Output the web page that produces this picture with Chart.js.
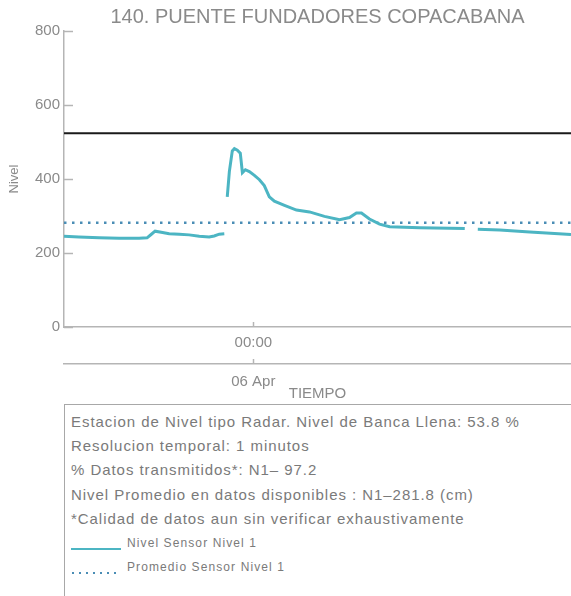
<!DOCTYPE html>
<html><head><meta charset="utf-8">
<script src="https://cdn.jsdelivr.net/npm/chart.js@4.4.0/dist/chart.umd.min.js"></script>
<style>
 body{margin:0;background:#fff;font-family:"Liberation Sans",Arial,sans-serif;overflow:hidden}
 #wrap{position:relative;width:571px;height:596px;overflow:hidden}
 #grafica{position:absolute;left:0;top:0}
 #box{position:absolute;left:64px;top:404px;width:560px;height:200px;border:1px solid #a8a8a8;
      color:#7a7a7a;font-size:15px;letter-spacing:0.95px;line-height:24.2px;padding:5px 0 0 6px;box-sizing:border-box;white-space:nowrap}
 #box .ley{font-size:12px;letter-spacing:1.1px}
 #box svg{vertical-align:-4px;margin-right:6px}
</style>
</head>
<body>
<div id="wrap">
 <canvas id="grafica" width="571" height="403"></canvas>
 <div id="box"></div>
</div>
<script>
// datos (horas respecto a 06 Apr 00:00, nivel en cm)
const titulo = '140. PUENTE FUNDADORES COPACABANA';
const horas = [-9, -8.29, -7.33, -6.38, -5.43, -5.05, -4.86, -4.67, -4.38, -4.0, -3.52, -3.05, -2.57, -2.10, -1.86, -1.62, -1.38,
  -1.3,
  -1.24, -1.14, -1.0, -0.90, -0.76, -0.62, -0.52, -0.38, -0.19, 0.05, 0.29, 0.52, 0.76, 1.0, 1.48, 2.05, 2.67, 3.38, 4.10,
  4.57, 4.90, 5.14, 5.52, 6.0, 6.48, 7.90, 10.05,
  10.4,
  10.67, 11.71, 13.14, 15.1];
const nivel = [245, 243, 241, 240, 240, 241, 250, 259, 256, 252, 251, 249, 245, 243, 246, 251, 252,
  null,
  352, 420, 476, 482, 478, 470, 417, 425, 420, 410, 398, 382, 352, 340, 329, 316, 311, 299, 290,
  296, 308, 308, 292, 278, 271, 268, 266,
  null,
  264, 262, 257, 250];
const promedio = 281.8;
const bancaLlena = 523.8;
const yTicks = [0, 200, 400, 600, 800];
const xTicks = [0];
const xHora = ['00:00'];
const xFecha = ['06 Apr'];
const xMin = -9, xMax = 15.1;

const textos = [
  'Estacion de Nivel tipo Radar. Nivel de Banca Llena: 53.8 %',
  'Resolucion temporal: 1 minutos',
  '% Datos transmitidos*: N1\u2013 97.2',
  'Nivel Promedio en datos disponibles : N1\u2013281.8 (cm)',
  '*Calidad de datos aun sin verificar exhaustivamente'
];
const nombres = ['Nivel Sensor Nivel 1', 'Promedio Sensor Nivel 1'];

const teal = '#4cb5c3';
const azul = '#4a8db5';
const gris = '#b5b5b5';
const texto = '#8a8a8a';

const box = document.getElementById('box');
let html = textos.map(t => '<div>' + t + '</div>').join('');
html += '<div class="ley"><svg width="50" height="10"><line x1="0" y1="8" x2="50" y2="8" stroke="' + teal + '" stroke-width="2"/></svg>' + nombres[0] + '</div>';
html += '<div class="ley"><svg width="50" height="10"><line x1="1" y1="8" x2="50" y2="8" stroke="' + azul + '" stroke-width="2" stroke-dasharray="2,5"/></svg>' + nombres[1] + '</div>';
box.innerHTML = html;

const marcas = {
  id: 'marcas',
  afterDraw(c) {
    const ctx = c.ctx, a = c.chartArea;
    ctx.save();
    ctx.strokeStyle = gris;
    ctx.lineWidth = 1.5;
    const y = c.scales.y;
    y.ticks.forEach(t => {
      const p = Math.round(y.getPixelForValue(t.value)) + 0.5;
      ctx.beginPath(); ctx.moveTo(a.left, p); ctx.lineTo(a.left + 9, p); ctx.stroke();
    });
    ['x', 'x2'].forEach(id => {
      const s = c.scales[id];
      s.ticks.forEach(t => {
        const p = Math.round(s.getPixelForValue(t.value)) + 0.5;
        ctx.beginPath(); ctx.moveTo(p, s.top); ctx.lineTo(p, s.top - 5); ctx.stroke();
      });
    });
    ctx.fillStyle = texto;
    ctx.font = '20px "Liberation Sans", Arial, sans-serif';
    ctx.textAlign = 'center';
    ctx.textBaseline = 'middle';
    ctx.fillText(titulo, (a.left + a.right) / 2, 17);
    ctx.restore();
  }
};

const fuente = { family: '"Liberation Sans", Arial, sans-serif', size: 15 };
const sinRejilla = { display: false, tickLength: 0, drawTicks: false };

new Chart(document.getElementById('grafica'), {
  type: 'line',
  data: {
    datasets: [
      { label: nombres[0], data: horas.map((h, i) => ({ x: h, y: nivel[i] })), borderColor: teal, borderWidth: 3,
        pointRadius: 0, tension: 0, spanGaps: false },
      { label: nombres[1], data: [{ x: xMin, y: promedio }, { x: xMax, y: promedio }], borderColor: azul, borderWidth: 2.4,
        borderDash: [2.5, 5.5], pointRadius: 0 },
      { label: 'Banca Llena', data: [{ x: xMin, y: bancaLlena }, { x: xMax, y: bancaLlena }], borderColor: '#1a1a1a',
        borderWidth: 2, pointRadius: 0 }
    ]
  },
  options: {
    responsive: false,
    animation: false,
    layout: { padding: { top: 31, right: 0, bottom: 0, left: 0 } },
    plugins: { legend: { display: false }, tooltip: { enabled: false } },
    scales: {
      x: {
        type: 'linear', position: 'bottom', min: xMin, max: xMax,
        afterBuildTicks: s => { s.ticks = xTicks.map(v => ({ value: v })); },
        afterFit: s => { s.height = 37; },
        grid: sinRejilla,
        border: { color: gris, width: 1.5 },
        ticks: { color: texto, font: fuente, padding: 7, maxRotation: 0, callback: (v) => xHora[xTicks.indexOf(v)] }
      },
      x2: {
        type: 'linear', position: 'bottom', min: xMin, max: xMax,
        afterBuildTicks: s => { s.ticks = xTicks.map(v => ({ value: v })); },
        afterFit: s => { s.height = 39; },
        grid: sinRejilla,
        border: { color: gris, width: 1.5 },
        ticks: { color: texto, font: fuente, padding: 9, maxRotation: 0, callback: (v) => xFecha[xTicks.indexOf(v)] },
        title: { display: true, text: 'TIEMPO', color: texto, font: fuente, padding: 0 }
      },
      y: {
        min: 0, max: 800,
        afterBuildTicks: s => { s.ticks = yTicks.map(v => ({ value: v })); },
        afterFit: s => { s.width = 64; },
        grid: sinRejilla,
        border: { color: gris, width: 1.5 },
        ticks: { color: texto, font: fuente, padding: 4 },
        title: { display: true, text: 'Nivel', color: texto, font: { family: fuente.family, size: 13 }, padding: { top: 7 } }
      }
    }
  },
  plugins: [marcas]
});
</script>
</body></html>
